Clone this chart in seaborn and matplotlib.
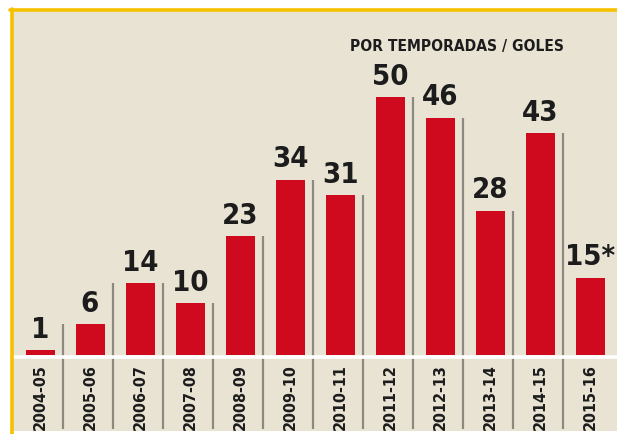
import matplotlib
matplotlib.use("Agg")
import matplotlib.pyplot as plt
from matplotlib.lines import Line2D
import seaborn as sns

seasons = ['2004-05', '2005-06', '2006-07', '2007-08', '2008-09', '2009-10',
           '2010-11', '2011-12', '2012-13', '2013-14', '2014-15', '2015-16']
goals = [1, 6, 14, 10, 23, 34, 31, 50, 46, 28, 43, 15]
value_labels = ['1', '6', '14', '10', '23', '34', '31', '50', '46', '28', '43', '15*']
# gray divider tops, as drawn between each pair of seasons
divider_tops = [6, 14, 14, 10, 23, 34, 31, 50, 46, 28, 43]
title = 'POR TEMPORADAS / GOLES'

red = '#cf0a1f'
beige = '#e9e3d3'
yellow = '#f7c100'
gray = '#8c8a80'
ink = '#1c1c1c'

sns.set_style('white')
plt.rcParams['font.family'] = ['DejaVu Sans']
plt.rcParams['font.stretch'] = 'condensed'

W, H = 617, 434
fig = plt.figure(figsize=(W / 100, H / 100), dpi=100, facecolor='white')
# panel: from x=13px to the right edge, y=10px to 431px
ax = fig.add_axes([13 / W, 1 - 431 / H, 1 - 13 / W, (431 - 10) / H])
ax.set_facecolor(beige)

sns.barplot(x=seasons, y=goals, color=red, saturation=1, width=0.58,
            linewidth=0, ax=ax)

px = 5.16  # pixels per goal
ax.set_ylim(-(431 - 355) / px, (355 - 10) / px)
ax.set_xlim((13 - 40) / 50, (617 - 40) / 50)

for i, top in enumerate(divider_tops):
    ax.plot([i + 0.46, i + 0.46], [-14.3, top], color=gray, lw=1.6, solid_capstyle='butt')

ax.axhline(-0.35, color='white', lw=2.6)

for i, (v, lab) in enumerate(zip(goals, value_labels)):
    ax.text(i, v + 1.2, lab, ha='center', va='bottom', fontsize=21,
            fontweight='bold', color=ink)
    ax.text(i, -8.1, seasons[i], ha='center', va='center', rotation=90,
            fontsize=11.5, fontweight='bold', color=ink)

ax.set_xticks([])
ax.set_yticks([])
ax.set_xlabel('')
ax.set_ylabel('')
for s in ax.spines.values():
    s.set_visible(False)

fig.text(350 / W, 1 - 39 / H, title, ha='left', va='top', fontsize=11.2,
         fontweight='bold', color=ink)

# yellow frame, top and left
fig.add_artist(Line2D([10 / W, 1], [1 - 9.5 / H, 1 - 9.5 / H], color=yellow, lw=2.6,
                      transform=fig.transFigure))
fig.add_artist(Line2D([11.5 / W, 11.5 / W], [0, 1 - 8.5 / H], color=yellow, lw=2.6,
                      transform=fig.transFigure))

fig.savefig('out.png', dpi=100, facecolor='white')
